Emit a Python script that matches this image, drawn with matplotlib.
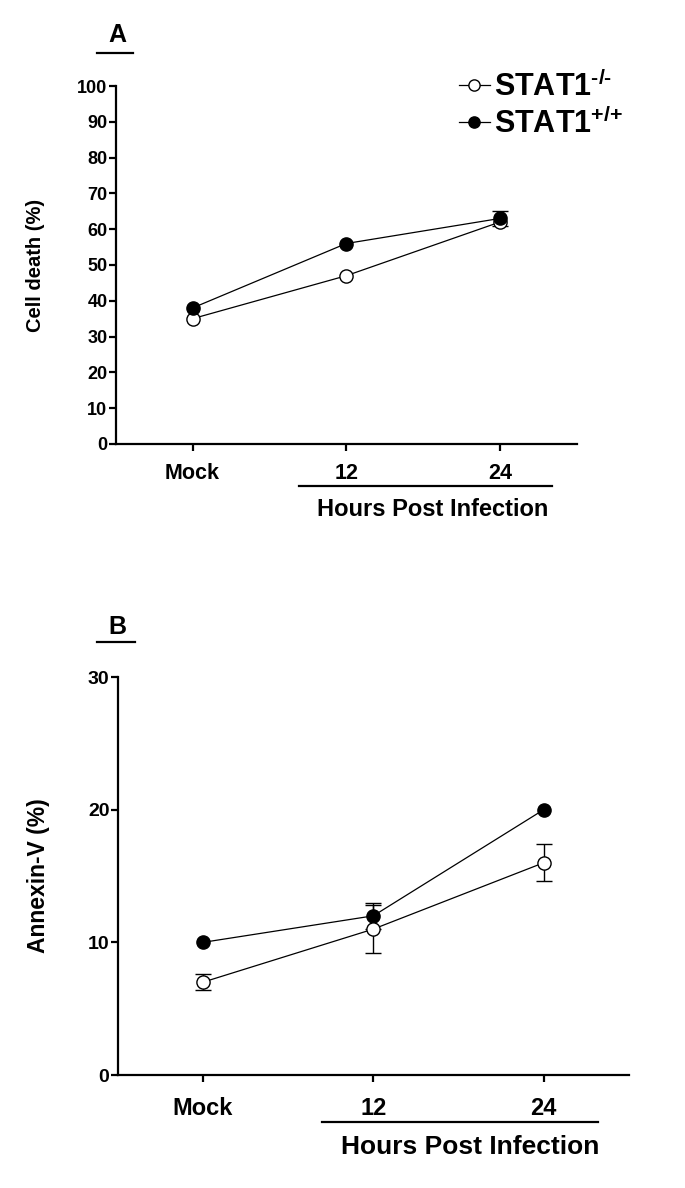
import matplotlib
matplotlib.use("Agg")
import matplotlib.pyplot as plt

plt.rcParams['font.family'] = ['Liberation Sans', 'DejaVu Sans']
plt.rcParams['font.weight'] = 'bold'
plt.rcParams['mathtext.fontset'] = 'custom'
plt.rcParams['mathtext.rm'] = 'Liberation Sans:bold'
plt.rcParams['mathtext.bf'] = 'Liberation Sans:bold'

nan = float('nan')  # error bar hidden under the marker

# data
groups = ["Mock", "12", "24"]
labels = [r"STAT1$^{\text{-/-}}$", r"STAT1$^{\text{+/+}}$"]

# A: cell death (%)
death_ko = [35, 47, 62]
death_ko_err = [nan, nan, nan]
death_wt = [38, 56, 63]
death_wt_err = [nan, nan, 2]

# B: Annexin-V (%)
annex_ko = [7, 11, 16]
annex_ko_err = [0.6, 1.8, 1.4]
annex_wt = [10, 12, 20]
annex_wt_err = [nan, 1.0, nan]

xpos = list(range(len(groups)))

fig = plt.figure(figsize=(6.85, 11.88), dpi=100)
axA = fig.add_axes([0.169, 0.6263, 0.673, 0.3013])
axB = fig.add_axes([0.172, 0.0951, 0.746, 0.335])


def draw_panel(ax, ko, ko_err, wt, wt_err, order):
    handles = {}
    for key in order:
        if key == "ko":
            c = ax.errorbar(xpos, ko, yerr=ko_err, color='black', lw=0.9, marker='o', ms=9.5,
                            mfc='white', mec='black', mew=1.0, capsize=6, elinewidth=1.0, capthick=1.0)
        else:
            c = ax.errorbar(xpos, wt, yerr=wt_err, color='black', lw=0.9, marker='o', ms=9.5,
                            mfc='black', mec='black', mew=1.0, capsize=6, elinewidth=1.0, capthick=1.0)
        handles[key] = c[0]
    ax.set_xlim(-0.5, 2.5)
    ax.set_xticks(xpos)
    for s in ['top', 'right']:
        ax.spines[s].set_visible(False)
    for s in ['left', 'bottom']:
        ax.spines[s].set_linewidth(1.6)
    ax.tick_params(axis='both', direction='out', width=1.6, length=5)
    ax.tick_params(axis='y', pad=1)
    return handles


# panel A
hA = draw_panel(axA, death_ko, death_ko_err, death_wt, death_wt_err, ["ko", "wt"])
axA.set_ylim(0, 100)
axA.set_yticks(range(0, 101, 10))
axA.set_yticklabels([str(v) for v in range(0, 101, 10)], fontsize=13, fontweight='bold')
axA.set_xticklabels(groups, fontsize=15.5, fontweight='bold')
axA.tick_params(axis='x', pad=9)
axA.set_ylabel("Cell death (%)", fontsize=14.5, fontweight='bold', labelpad=23)
axA.plot([0.69, 2.34], [-0.117, -0.117], color='black', lw=1.6, clip_on=False,
         transform=axA.get_xaxis_transform())
axA.text(1.56, -0.182, "Hours Post Infection", fontsize=17, fontweight='bold', ha='center', va='center',
         transform=axA.get_xaxis_transform())
axA.legend([hA["ko"], hA["wt"]], labels, loc='upper left', bbox_to_anchor=(0.648, 0.953),
           bbox_transform=fig.transFigure, frameon=False, prop={'size': 22, 'weight': 'bold'},
           numpoints=1, handlelength=1.0, handletextpad=0.15, labelspacing=0.15, borderpad=0,
           markerscale=0.85)
fig.text(117 / 685, 1 - 35 / 1188, "A", fontsize=18, fontweight='bold', ha='center', va='center')
fig.add_artist(plt.Line2D([97 / 685, 133 / 685], [1 - 53 / 1188, 1 - 53 / 1188], color='black', lw=1.6))

# panel B
hB = draw_panel(axB, annex_ko, annex_ko_err, annex_wt, annex_wt_err, ["wt", "ko"])
axB.set_ylim(0, 30)
axB.set_yticks([0, 10, 20, 30])
axB.set_yticklabels(["0", "10", "20", "30"], fontsize=14, fontweight='bold')
axB.set_xticklabels(groups, fontsize=17, fontweight='bold')
axB.tick_params(axis='x', pad=11)
axB.set_ylabel("Annexin-V (%)", fontsize=16.5, fontweight='bold', labelpad=27)
axB.plot([0.70, 2.32], [-0.118, -0.118], color='black', lw=1.6, clip_on=False,
         transform=axB.get_xaxis_transform())
axB.text(1.57, -0.181, "Hours Post Infection", fontsize=19, fontweight='bold', ha='center', va='center',
         transform=axB.get_xaxis_transform())
fig.text(117 / 685, 1 - 627 / 1188, "B", fontsize=18, fontweight='bold', ha='center', va='center')
fig.add_artist(plt.Line2D([97 / 685, 135 / 685], [1 - 642 / 1188, 1 - 642 / 1188], color='black', lw=1.6))

plt.savefig("out.png", dpi=100)
